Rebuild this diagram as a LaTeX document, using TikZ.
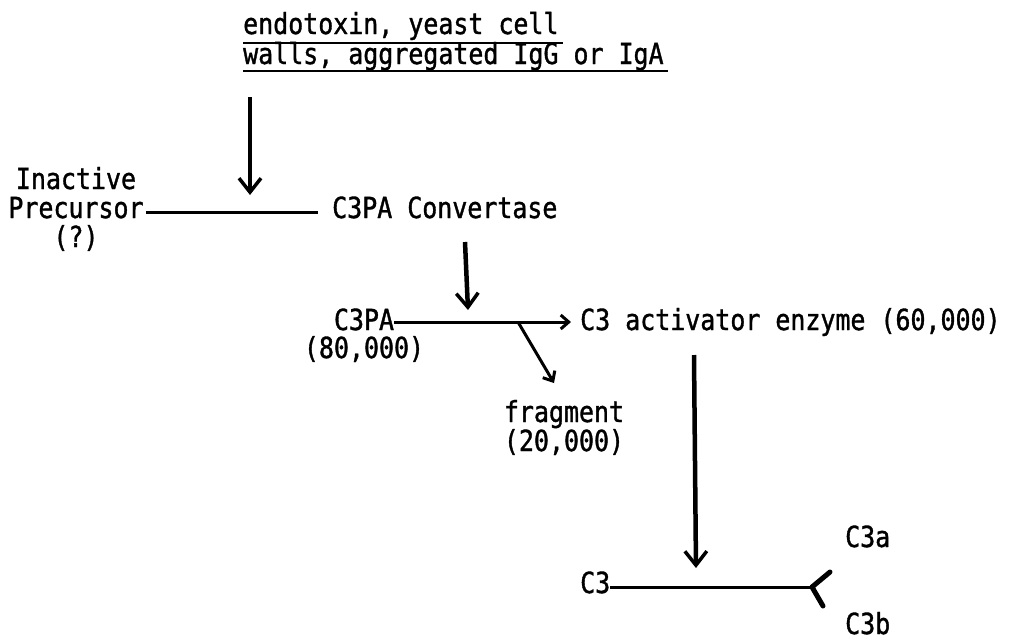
\documentclass[tikz,border=0pt]{standalone}
\usepackage{fontspec}
\setmainfont{DejaVu Sans Mono}[FakeStretch=0.86,FakeBold=1.2]
\usetikzlibrary{arrows.meta}
\begin{document}
\begin{tikzpicture}[x=1pt,y=-1pt,
  lbl/.style={inner sep=0pt, font=\fontsize{29}{29}\selectfont},
  ul/.style={line width=2.5pt},
  link/.style={line width=3pt},
  arr/.style={line width=4.5pt, -{Straight Barb[length=14pt,width=22pt,line width=3.5pt]}},
  sarr/.style={line width=3pt, -{Straight Barb[length=8pt,width=14pt,line width=3pt]}},
  fork/.style={line width=5pt, line cap=round}
]
\useasboundingbox (0,0) rectangle (1013,641);

% source text
\node[lbl, anchor=base west] (t1) at (243,34) {endotoxin, yeast cell};
\node[lbl, anchor=base west] (t2) at (243,64) {walls, aggregated IgG or IgA};
\draw[ul] ([yshift=-9pt]t1.base west) -- ([xshift=4pt,yshift=-9pt]t1.base east);
\draw[ul] ([yshift=-7pt]t2.base west) -- ([xshift=4pt,yshift=-7pt]t2.base east);

% first step
\node[lbl, align=center, anchor=base] (inact) at (76,247) {Inactive\\Precursor\\(?)};
\node[lbl, anchor=base west] (conv) at (332,218) {C3PA Convertase};
\coordinate (row1) at ([yshift=6pt]conv.base west);
\draw[link] ([xshift=2pt]inact.east |- row1) -- ([xshift=-14pt]row1);
\coordinate (a1s) at (250,97);
\coordinate (a1e) at (250,195);
\draw[arr] (a1s) -- (a1e);

% second step
\node[lbl, anchor=base] (c3pa) at (364,330) {C3PA};
\node[lbl, anchor=base] (c3pamw) at (364,358) {(80,000)};
\node[lbl, anchor=base west] (act) at (580,330) {C3 activator enzyme (60,000)};
\coordinate (row2) at ([yshift=8pt]c3pa.base east);
\draw[sarr] (row2) -- ([xshift=-9pt]row2 -| act.west);
\coordinate (a2s) at (465,242);
\coordinate (a2e) at (468,310);
\draw[arr] (a2s) -- (a2e);
\coordinate (br) at (row2 -| 518,0);
\coordinate (frtip) at (554,383);
\draw[sarr] (br) -- (frtip);
\node[lbl, align=center, anchor=base] (frag) at (564,451) {fragment\\(20,000)};

% third step
\node[lbl, anchor=base west] (c3) at (580,593) {C3};
\node[lbl, anchor=base west] (c3a) at (845,547) {C3a};
\node[lbl, anchor=base west] (c3b) at (845,634) {C3b};
\coordinate (row3) at ([yshift=6pt]c3.base east);
\coordinate (fk) at (row3 -| 812,0);
\draw[link] (row3) -- (fk);
\draw[fork] (fk) -- ++(18,-15);
\draw[fork] (fk) -- ++(11,19);
\coordinate (a3s) at (694,355);
\coordinate (a3e) at (696,568);
\draw[arr] (a3s) -- (a3e);
\end{tikzpicture}
\end{document}
